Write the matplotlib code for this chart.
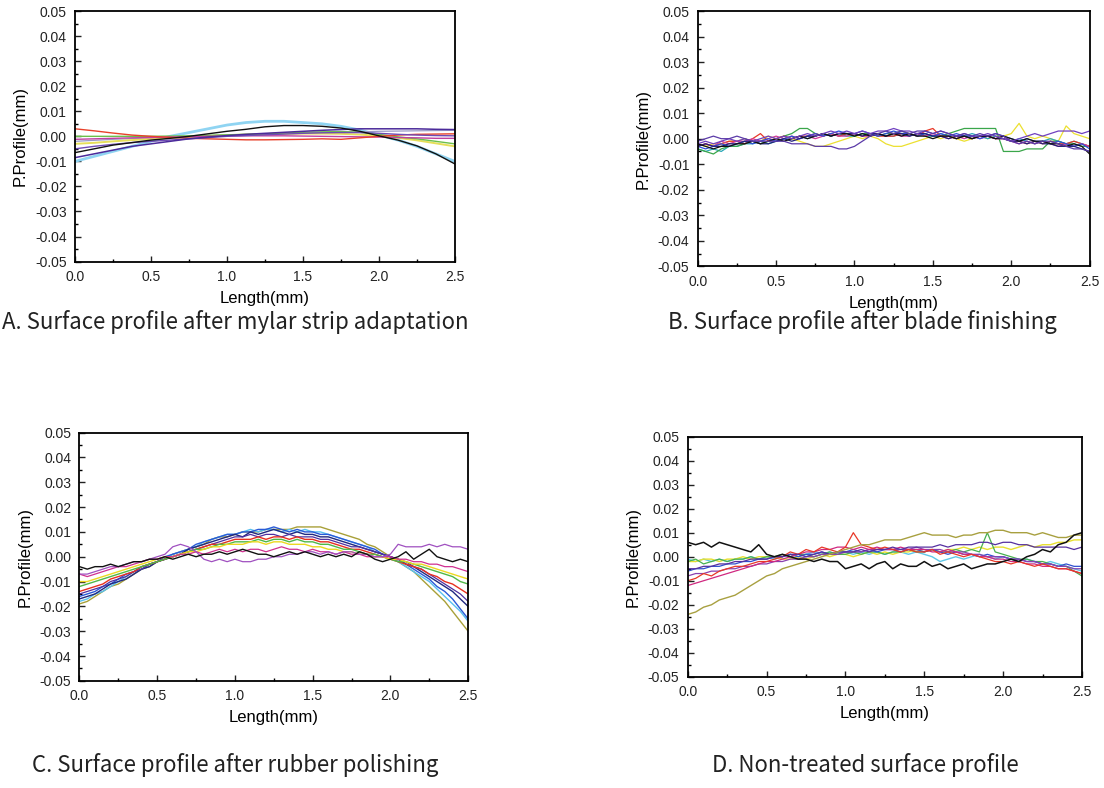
import numpy as np
import matplotlib
import matplotlib.pyplot as plt
from matplotlib.ticker import AutoMinorLocator

matplotlib.use('Agg')
plt.rcParams['font.family'] = ['Liberation Sans', 'DejaVu Sans']

# tick labels
x_ticks = [0.0, 0.5, 1.0, 1.5, 2.0, 2.5]
x_labels = ['0.0', '0.5', '1.0', '1.5', '2.0', '2.5']
y_ticks = [-0.05, -0.04, -0.03, -0.02, -0.01, 0.0, 0.01, 0.02, 0.03, 0.04, 0.05]
y_labels = ['-0.05', '-0.04', '-0.03', '-0.02', '-0.01', '0.00',
            '0.01', '0.02', '0.03', '0.04', '0.05']

captions = ['A. Surface profile after mylar strip adaptation',
            'B. Surface profile after blade finishing',
            'C. Surface profile after rubber polishing',
            'D. Non-treated surface profile']

# profile values below are in micrometres (converted to mm when plotted)
# panel A: smooth profiles, one point every 0.125 mm
x_a = np.linspace(0, 2.5, 21)
a_lightblue = [-10, -8, -6, -4, -2, 0, 1.5, 3, 4.5, 5.5, 6, 6, 5.5, 5, 4, 2.5, 0.5, -1.5, -4, -7, -10]
a_black = [-6.5, -5, -3.5, -2.5, -1.5, -0.8, 0, 1, 2, 2.8, 3.8, 4.3, 4.3, 4.0, 3.3, 2, 0.2, -1.5, -3.8, -7, -11]
a_red = [3, 2.2, 1.3, 0.5, 0, -0.4, -0.8, -1, -1.2, -1.4, -1.4, -1.3, -1.2, -1, -1.2, -0.6, 0, 0.5, 0.8, 0.9, 1.0]
a_purple = [-8.5, -7, -5.5, -4, -3, -2, -1, -0.3, 0.3, 0.8, 1.2, 1.6, 2, 2.4, 2.7, 3, 3, 3, 3, 2.8, 2.7]
a_violet = [-5, -4, -3.2, -2.5, -2, -1.5, -1, -0.5, 0, 0.3, 0.6, 0.9, 1.2, 1.4, 1.5, 1.5, 1.2, 0.8, 0.5, 0.3, 0.2]
a_magenta = [-1.2, -1, -0.8, -0.6, -0.5, -0.3, -0.2, 0, 0.1, 0.2, 0.2, 0.2, 0.1, 0, -0.1, -0.2, -0.3, -0.5, -0.6, -0.8, -0.8]
a_yellow = [-3, -2.6, -2, -1.5, -1, -0.6, -0.2, 0.1, 0.4, 0.7, 0.9, 1, 1.1, 1.1, 1, 0.7, 0.2, -0.6, -1.6, -2.8, -4]
a_green = [0, 0, 0, 0, 0, 0.1, 0.2, 0.4, 0.6, 0.8, 1, 1.3, 1.6, 1.8, 1.9, 1.6, 0.8, -0.2, -1, -2, -3]
a_lavender = [-2, -1.6, -1.2, -0.9, -0.6, -0.3, 0, 0.2, 0.4, 0.6, 0.8, 1, 1.2, 1.4, 1.6, 1.8, 2, 2.1, 2.2, 2.3, 2.4]

# panels B-D: noisy profiles, one point every 0.05 mm
x_n = np.linspace(0, 2.5, 51)

b_black = [-2, -3, -4, -3, -3, -2, -2, -1, -2, -1,
           0, -1, 0, 1, 0, 1, 2, 1, 2, 2,
           1, 2, 1, 2, 1, 2, 1, 2, 1, 1,
           0, 1, 1, 0, 1, 0, 1, 1, 0, 1,
           0, -1, 0, -1, -1, -2, -2, -3, -2, -3, -6]
b_red = [-3, -2, -3, -2, -1, -1, -2, 0, 2, -1,
         0, 1, 0, 1, 1, 2, 1, 2, 1, 2,
         2, 1, 2, 1, 1, 1, 2, 2, 1, 3,
         4, 1, 1, 0, 1, 0, 1, 1, 0, 0,
         -1, -1, -2, -1, -2, -1, -2, -2, -1, -2, -3]
b_blue = [-3, -4, -3, -2, -3, -2, -1, -2, -1, 0,
          -1, 0, 1, 0, 1, 2, 1, 2, 3, 2,
          2, 3, 2, 1, 2, 3, 2, 2, 1, 2,
          1, 2, 1, 2, 1, 1, 0, 1, 2, 1,
          0, -1, 0, -1, -1, -2, -1, -2, -3, -2, -4]
b_green = [-4, -5, -6, -4, -3, -3, -2, -1, -2, -1,
           0, 1, 2, 4, 4, 2, 1, 2, 1, 2,
           1, 2, 2, 1, 2, 2, 3, 2, 1, 2,
           1, 1, 2, 3, 4, 4, 4, 4, 4, -5,
           -5, -5, -4, -4, -4, -1, -1, -2, -2, -3, -3]
b_yellow = [-2, -3, -2, -2, -1, -1, 0, -1, -1, 1,
            0, 1, 0, -1, -2, -3, -3, -2, -1, 0,
            1, 0, 1, 0, -2, -3, -3, -2, -1, 0,
            1, 0, 1, 0, -1, 0, 1, 0, 1, 1,
            2, 6, 1, 0, 1, 0, -1, 5, 2, 1, 0]
b_magenta = [-3, -2, -3, -1, -2, -1, -1, 0, -1, 0,
             1, 0, 1, 0, 1, 0, 1, 2, 1, 1,
             2, 1, 1, 2, 1, 2, 1, 1, 2, 1,
             2, 1, 0, 1, 0, 1, 0, 1, 0, 1,
             -1, -2, -1, -2, -1, -2, -3, -2, -3, -2, -3]
b_purple = [-1, 0, 1, 0, 0, 1, 0, -1, -1, -1,
            -1, -1, -2, -2, -2, -3, -3, -3, -4, -4,
            -3, -1, 1, 2, 3, 2, 3, 2, 3, 3,
            2, 3, 2, 1, 2, 1, 2, 1, 2, 1,
            -1, -2, -1, -2, -1, -1, -2, -3, -4, -4, -5]
b_violet = [-2, -1, -2, -1, 0, -1, 0, -1, 0, 1,
            0, 1, 0, 1, 2, 1, 2, 3, 2, 3,
            2, 3, 2, 3, 3, 4, 3, 3, 2, 3,
            2, 3, 2, 1, 2, 1, 1, 2, 1, 0,
            -1, 0, 1, 2, 1, 2, 3, 3, 3, 2, 3]
b_teal = [-4, -5, -4, -5, -3, -3, -2, -2, -1, -2,
          -1, 0, 0, 1, 0, 1, 2, 1, 2, 1,
          1, 2, 1, 2, 1, 1, 2, 1, 2, 1,
          1, 2, 1, 0, 1, 2, 1, 0, 1, 0,
          -1, 0, -1, -2, -1, 0, -1, -2, -1, -2, -3]
b_navy = [-3, -2, -3, -3, -2, -2, -1, -1, -2, -2,
          -1, 0, -1, 0, 1, 1, 2, 1, 2, 2,
          2, 1, 2, 2, 1, 2, 2, 1, 2, 2,
          1, 1, 0, 1, 1, 0, 1, 1, 0, 0,
          -1, -1, -2, -1, -2, -2, -3, -3, -3, -4, -5]

c_black = [-4, -5, -4, -4, -3, -4, -3, -2, -2, -1,
           -1, 0, -1, 0, 1, 0, 1, 1, 2, 1,
           2, 3, 2, 1, 1, 0, 1, 2, 1, 2,
           1, 0, 1, 0, 1, 0, 2, 1, -1, -2,
           -1, 0, 2, -1, 1, 3, 0, -1, -2, -1, -2]
c_violet = [-7, -7, -6, -5, -4, -4, -3, -2, -2, -1,
            0, 1, 4, 5, 4, 2, -1, -2, -1, -2,
            -1, -2, -2, -1, -1, 0, 0, 1, 1, 2,
            2, 1, 2, 1, 2, 2, 1, 1, 0, 0,
            1, 5, 4, 4, 4, 5, 4, 5, 4, 4, 3]
c_magenta = [-7, -8, -7, -6, -5, -4, -4, -3, -2, -1,
             -1, 0, 0, 1, 1, 2, 1, 2, 3, 2,
             3, 2, 3, 3, 2, 3, 4, 3, 3, 2,
             3, 2, 2, 1, 2, 1, 1, 0, 0, 0,
             0, -1, -1, -2, -2, -3, -3, -4, -4, -5, -6]
c_yellow = [-10, -10, -9, -8, -7, -6, -5, -4, -3, -2,
            -1, 0, 0, 1, 2, 2, 3, 4, 4, 5,
            5, 5, 6, 6, 5, 6, 6, 5, 5, 5,
            4, 4, 3, 3, 2, 2, 1, 1, 0, 0,
            -1, -1, -2, -3, -3, -4, -5, -6, -7, -8, -9]
c_green = [-12, -11, -10, -9, -8, -7, -6, -5, -4, -3,
           -2, -1, 0, 1, 2, 3, 3, 4, 5, 5,
           6, 6, 6, 7, 6, 7, 7, 6, 7, 6,
           6, 5, 5, 4, 3, 3, 2, 1, 1, 0,
           -1, -2, -2, -3, -4, -5, -6, -7, -8, -10, -11]
c_red = [-14, -13, -12, -11, -9, -8, -7, -6, -4, -3,
         -2, -1, 0, 1, 2, 3, 4, 5, 5, 6,
         7, 7, 7, 8, 7, 8, 8, 7, 8, 7,
         7, 6, 6, 5, 4, 3, 3, 2, 1, 0,
         -1, -2, -3, -4, -5, -7, -8, -10, -11, -13, -15]
c_purple = [-15, -14, -13, -12, -10, -9, -8, -6, -5, -3,
            -2, -1, 0, 1, 2, 3, 4, 5, 6, 7,
            8, 8, 9, 8, 9, 9, 8, 9, 8, 8,
            8, 7, 7, 6, 5, 4, 4, 3, 2, 1,
            0, -1, -2, -4, -5, -7, -9, -11, -13, -15, -18]
c_navy = [-17, -16, -15, -13, -11, -10, -9, -7, -5, -4,
          -2, -1, 0, 1, 3, 4, 5, 6, 7, 8,
          9, 8, 10, 9, 10, 11, 10, 9, 10, 9,
          9, 8, 8, 7, 6, 5, 4, 3, 2, 1,
          0, -1, -3, -4, -6, -8, -10, -12, -14, -17, -20]
c_blue = [-16, -15, -14, -12, -11, -9, -7, -6, -4, -3,
          -2, 0, 1, 2, 3, 5, 6, 7, 8, 9,
          9, 10, 10, 11, 11, 12, 11, 10, 11, 10,
          10, 9, 9, 8, 7, 6, 5, 4, 3, 1,
          0, -1, -3, -5, -7, -9, -12, -14, -17, -21, -25]
c_lightblue = [-18, -17, -15, -14, -12, -10, -8, -6, -5, -3,
               -2, -1, 1, 2, 3, 4, 6, 7, 8, 9,
               9, 10, 11, 10, 11, 11, 10, 11, 10, 11,
               10, 10, 9, 8, 7, 6, 5, 4, 2, 1,
               0, -2, -4, -6, -8, -10, -13, -16, -19, -22, -26]
c_olive = [-19, -18, -16, -14, -12, -11, -9, -7, -5, -4,
           -2, -1, 1, 2, 3, 4, 5, 7, 8, 8,
           9, 10, 10, 10, 11, 11, 11, 11, 12, 12,
           12, 12, 11, 10, 9, 8, 7, 5, 4, 2,
           0, -2, -4, -6, -9, -12, -15, -18, -22, -26, -30]

d_black = [6, 5, 6, 4, 6, 5, 4, 3, 2, 5,
           1, 0, 1, 0, -1, -1, -2, -1, -2, -2,
           -5, -4, -3, -5, -3, -2, -5, -3, -4, -4,
           -2, -4, -3, -5, -4, -3, -5, -4, -3, -3,
           -2, -1, -2, 0, 1, 3, 2, 5, 6, 9, 10]
d_olive = [-24, -23, -21, -20, -18, -17, -16, -14, -12, -10,
           -8, -7, -5, -4, -3, -2, -1, 0, 1, 2,
           3, 4, 5, 5, 6, 7, 7, 7, 8, 9,
           10, 9, 9, 9, 8, 9, 9, 10, 10, 11,
           11, 10, 10, 10, 9, 10, 9, 8, 8, 9, 9]
d_purple = [-5, -5, -4, -4, -3, -3, -2, -2, -1, -1,
            -1, 0, 0, 1, 1, 0, 1, 2, 1, 2,
            2, 2, 3, 2, 3, 3, 4, 3, 4, 4,
            4, 4, 5, 4, 5, 5, 5, 6, 6, 5,
            6, 6, 5, 5, 4, 4, 4, 4, 4, 3, 4]
d_magenta = [-12, -11, -10, -9, -8, -7, -6, -5, -4, -3,
             -2, -2, -1, 0, 1, 2, 2, 3, 3, 4,
             4, 3, 4, 3, 4, 3, 3, 4, 3, 3,
             3, 2, 2, 3, 2, 1, 1, 0, 0, -1,
             -1, -2, -2, -3, -3, -4, -4, -5, -5, -6, -7]
d_red = [-10, -9, -7, -8, -6, -5, -4, -4, -3, -2,
         -2, -1, 0, 2, 1, 3, 2, 4, 3, 2,
         4, 10, 5, 4, 3, 4, 3, 2, 3, 2,
         2, 3, 1, 2, 1, 0, 1, 0, -1, -2,
         -2, -3, -2, -3, -4, -3, -4, -5, -5, -6, -7]
d_blue = [-6, -5, -5, -4, -4, -3, -3, -2, -2, -1,
          -1, 0, 0, 1, 0, 1, 1, 2, 1, 2,
          2, 3, 2, 3, 2, 3, 3, 2, 3, 3,
          2, 3, 2, 1, 2, 1, 1, 0, 1, 0,
          0, -1, -1, -2, -2, -3, -3, -4, -3, -4, -4]
d_cyan = [-1, -2, -1, -2, -1, -2, -1, -1, 0, -1,
          0, -1, 0, 1, 0, 1, 2, 1, 2, 1,
          2, 1, 2, 1, 2, 1, 2, 2, 1, 2,
          1, 0, -2, -1, 0, -1, 0, 1, 0, -1,
          0, -1, -2, -1, -2, -3, -2, -3, -4, -5, -6]
d_yellow = [-2, -2, -1, -1, -2, -1, -1, 0, -1, 0,
            0, 0, -1, -1, 0, -1, 0, 1, 0, 1,
            1, 0, 1, 2, 1, 2, 1, 2, 2, 3,
            2, 3, 2, 3, 3, 4, 3, 4, 3, 4,
            4, 3, 4, 5, 4, 5, 5, 6, 6, 7, 7]
d_green = [-2, -1, -3, -2, -1, -2, -1, -1, 0, -1,
           0, 0, 1, 0, 1, 1, 0, 1, 2, 1,
           1, 2, 1, 2, 2, 1, 2, 2, 3, 2,
           2, 3, 2, 2, 3, 2, 3, 2, 10, 2,
           1, 0, -1, -1, -2, -2, -3, -4, -4, -6, -8]
d_violet = [-8, -7, -7, -6, -6, -5, -5, -4, -4, -3,
            -3, -2, -2, -1, -1, 0, 0, 1, 1, 1,
            2, 2, 2, 3, 3, 3, 3, 3, 3, 4,
            3, 3, 3, 2, 2, 2, 1, 1, 0, 0,
            0, -1, -1, -2, -2, -3, -3, -4, -4, -5, -5]

panels = [
    (x_a, [(a_lightblue, '#8fd4f2', 2.0), (a_lavender, '#9a9ac8', 0.9),
           (a_yellow, '#e6df5a', 1.4), (a_green, '#6cbf4a', 1.0),
           (a_magenta, '#c040a0', 1.0), (a_red, '#e8402a', 1.0),
           (a_violet, '#6f4bb5', 1.0), (a_purple, '#4b2a9a', 1.1),
           (a_black, '#111111', 1.0)]),
    (x_n, [(b_yellow, '#ece030', 0.9), (b_teal, '#2aa8b8', 0.9),
           (b_green, '#3aa64a', 0.9), (b_red, '#e83828', 0.9),
           (b_magenta, '#d03a9a', 0.9), (b_blue, '#2e4fd8', 0.9),
           (b_navy, '#22227a', 0.9), (b_black, '#111111', 0.9),
           (b_violet, '#7040c0', 0.9), (b_purple, '#5b3aa8', 0.9)]),
    (x_n, [(c_olive, '#a8a038', 1.0), (c_lightblue, '#58c0f0', 1.0),
           (c_blue, '#2a5ad8', 1.0), (c_navy, '#202880', 1.0),
           (c_purple, '#5030a0', 0.9), (c_red, '#e83020', 1.0),
           (c_green, '#50b848', 1.0), (c_yellow, '#ecd820', 1.0),
           (c_magenta, '#d03090', 0.9), (c_violet, '#a050c0', 0.9),
           (c_black, '#111111', 1.0)]),
    (x_n, [(d_cyan, '#60c8e8', 1.0), (d_yellow, '#e8e030', 1.0),
           (d_green, '#48b050', 0.9), (d_blue, '#3050d0', 0.9),
           (d_violet, '#8a40b0', 0.9), (d_magenta, '#d02880', 0.9),
           (d_red, '#e83828', 0.9), (d_purple, '#5530a0', 0.9),
           (d_olive, '#a8a040', 1.0), (d_black, '#111111', 1.1)]),
]

# axes rectangles in figure fractions (left, bottom, width, height)
rects = [(0.068, 0.668, 0.344, 0.318),
         (0.632, 0.662, 0.355, 0.324),
         (0.072, 0.136, 0.352, 0.315),
         (0.623, 0.141, 0.357, 0.305)]
cap_pos = [(0.213, 0.591), (0.781, 0.591), (0.213, 0.029), (0.784, 0.029)]

fig = plt.figure(figsize=(11.04, 7.88), dpi=100)

for (xs, lines), rect in zip(panels, rects):
    ax = fig.add_axes(rect)
    for vals, col, lw in lines:
        ax.plot(xs, np.array(vals) / 1000.0, color=col, lw=lw)
    ax.set_xlim(0, 2.5)
    ax.set_ylim(-0.05, 0.05)
    ax.set_xticks(x_ticks)
    ax.set_xticklabels(x_labels)
    ax.set_yticks(y_ticks)
    ax.set_yticklabels(y_labels)
    ax.xaxis.set_minor_locator(AutoMinorLocator(2))
    ax.yaxis.set_minor_locator(AutoMinorLocator(2))
    ax.tick_params(which='major', direction='in', length=4, width=1,
                   labelsize=10, pad=6, colors='#222222')
    ax.tick_params(which='minor', direction='in', length=2.5, width=1)
    for sp in ax.spines.values():
        sp.set_linewidth(1.3)
    ax.set_xlabel('Length(mm)', fontsize=12, labelpad=5)
    ax.set_ylabel('P.Profile(mm)', fontsize=12, labelpad=5)

for (cx, cy), txt in zip(cap_pos, captions):
    fig.text(cx, cy, txt, ha='center', va='center', fontsize=16,
             family=['Noto Sans CJK KR', 'DejaVu Sans'], color='#222222')

plt.savefig('out.png', dpi=100)
